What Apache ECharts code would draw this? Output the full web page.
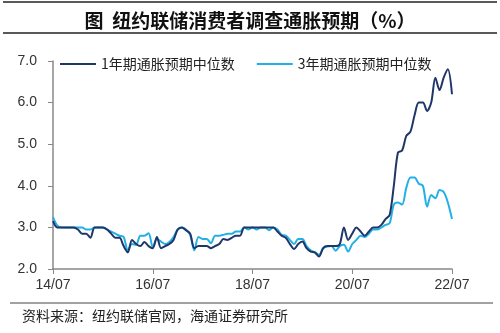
<!DOCTYPE html>
<html><head><meta charset="utf-8">
<script src="https://cdn.jsdelivr.net/npm/echarts@6/dist/echarts.min.js"></script>
<style>html,body{margin:0;padding:0;background:#fff}#c{width:500px;height:333px}</style>
</head><body><div id="c"></div>
<script>
// monthly, 2014-07 .. 2022-07
const startYear = 2014, startMonth = 7, nMonths = 97;
const tickLabels = ["14/07","16/07","18/07","20/07","22/07"];
const oneYear = [3.15,3.0,3.0,3.0,3.0,3.0,2.95,2.85,2.85,2.75,3.0,3.0,3.0,2.95,2.85,2.75,2.75,2.55,2.4,2.7,2.6,2.55,2.65,2.55,2.5,2.77,2.5,2.55,2.6,2.7,2.95,3.0,2.93,2.85,2.5,2.55,2.55,2.55,2.5,2.55,2.6,2.72,2.7,2.75,2.8,2.8,3.0,3.0,3.0,3.0,3.0,3.0,3.0,3.0,2.9,2.8,2.75,2.6,2.48,2.6,2.66,2.5,2.42,2.4,2.3,2.5,2.55,2.55,2.55,2.6,3.0,2.7,2.85,3.0,2.9,2.8,2.9,3.0,3.0,3.06,3.2,3.3,4.0,4.8,4.85,5.2,5.3,5.7,6.0,6.0,5.8,6.0,6.6,6.3,6.6,6.8,6.2];
const threeYear = [3.25,3.05,3.0,3.0,3.0,3.0,3.0,3.0,2.95,2.95,3.0,3.0,3.0,2.95,2.9,2.85,2.8,2.77,2.45,2.6,2.58,2.8,2.8,2.86,2.53,2.72,2.66,2.6,2.65,2.77,2.95,3.0,2.95,2.82,2.45,2.77,2.72,2.72,2.62,2.8,2.8,2.82,2.85,2.85,2.9,2.9,3.0,2.95,3.0,2.95,3.0,3.0,2.93,3.0,2.95,2.82,2.8,2.7,2.6,2.72,2.72,2.55,2.45,2.4,2.34,2.5,2.54,2.55,2.44,2.55,2.58,2.42,2.6,2.7,2.8,2.77,2.85,2.95,2.95,3.0,3.06,3.1,3.55,3.6,3.55,3.95,4.2,4.2,4.05,4.0,3.5,3.78,3.7,3.9,3.85,3.6,3.2];
const seriesNames = ["1年期通胀预期中位数","3年期通胀预期中位数"];
const titleText = "图  纽约联储消费者调查通胀预期（%）";
const sourceText = "资料来源：纽约联储官网，海通证券研究所";

const categories = [];
for (let i = 0; i < nMonths; i++) {
  const t = (startMonth - 1) + i;
  const y = startYear + Math.floor(t / 12), m = t % 12 + 1;
  categories.push(String(y % 100).padStart(2,"0") + "/" + String(m).padStart(2,"0"));
}

const chart = echarts.init(document.getElementById('c'), null, {renderer:'canvas'});
chart.setOption({
  animation:false,
  backgroundColor:'#fff',
  title:{text:titleText,left:'center',top:6,textStyle:{fontFamily:'Noto Sans CJK SC',fontSize:19,fontWeight:'bold',color:'#111'}},
  graphic:[
    {type:'line',shape:{x1:3,y1:2,x2:497,y2:2},style:{stroke:'#222',lineWidth:1.5}},
    {type:'line',shape:{x1:3,y1:33,x2:497,y2:33},style:{stroke:'#222',lineWidth:1.5}},
    {type:'line',shape:{x1:10,y1:303,x2:493,y2:303},style:{stroke:'#444',lineWidth:1}},
    {type:'text',left:22,top:309,style:{text:sourceText,font:'14px "Noto Sans CJK SC"',fill:'#222'}}
  ],
  legend:{top:52,left:55,itemGap:22,itemWidth:36,itemHeight:2,icon:'rect',
    textStyle:{fontFamily:'Noto Sans CJK SC',fontSize:14,color:'#222'}},
  grid:{left:53,right:48,top:61,bottom:64,containLabel:false},
  xAxis:{type:'category',data:categories,boundaryGap:false,
    axisLine:{lineStyle:{color:'#888',width:1.5}},
    axisTick:{show:true,length:5,lineStyle:{color:'#888'},
      interval:function(i,v){return tickLabels.indexOf(v)>=0;}},
    axisLabel:{interval:function(i,v){return tickLabels.indexOf(v)>=0;},
      fontFamily:'Liberation Sans',fontSize:14,color:'#333',margin:9,showMaxLabel:true}},
  yAxis:{type:'value',min:2,max:7,interval:1,
    axisLine:{show:true,lineStyle:{color:'#888',width:1.5}},
    axisTick:{show:true,length:5,lineStyle:{color:'#888'}},
    splitLine:{show:false},
    axisLabel:{formatter:v=>v.toFixed(1),fontFamily:'Liberation Sans',fontSize:14,color:'#333',margin:16}},
  series:[
    {name:seriesNames[0],type:'line',data:oneYear,smooth:0.3,symbol:'none',lineStyle:{color:'#1f3668',width:2},itemStyle:{color:'#1f3668'},z:3},
    {name:seriesNames[1],type:'line',data:threeYear,smooth:0.3,symbol:'none',lineStyle:{color:'#22b0e6',width:2},itemStyle:{color:'#22b0e6'},z:2}
  ]
});
</script></body></html>
